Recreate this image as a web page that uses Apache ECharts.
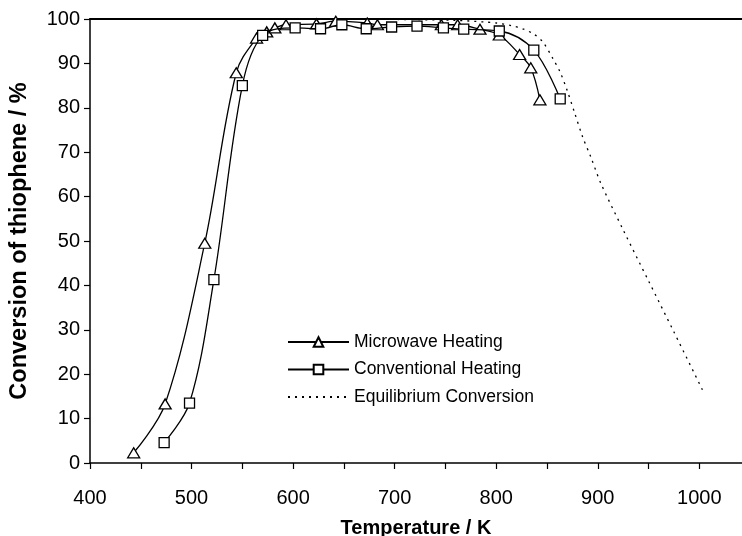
<!DOCTYPE html>
<html>
<head>
<meta charset="utf-8">
<script src="https://cdn.jsdelivr.net/npm/echarts@6/dist/echarts.min.js"></script>
<style>html,body{margin:0;padding:0;background:#fff}#c{width:742px;height:536px}</style>
</head>
<body>
<div id="c"></div>
<script>
const seriesNames = ['Microwave Heating', 'Conventional Heating', 'Equilibrium Conversion'];
const microwave = [[443,2.3],[474,13.3],[513,49.5],[544,87.9],[564,95.7],[574,97.1],[582,98.0],[593,98.7],[623,98.9],[642,99.5],[673,99.1],[683,98.7],[746,98.7],[762,98.7],[784,97.7],[803,96.4],[823,92.0],[834,89.0],[843,81.8]];
const conventional = [[473,4.6],[498,13.5],[522,41.3],[550,85.0],[570,96.3],[602,98.0],[627,97.8],[648,98.7],[672,97.8],[697,98.2],[722,98.4],[748,98.0],[768,97.7],[803,97.3],[837,93.0],[863,82.0]];
const equilibrium = [[420,100],[600,100],[700,99.9],[760,99.7],[790,99.3],[800,99.1],[815,98.5],[827,97.7],[837,96.6],[846,94.8],[856,91.0],[863,88.0],[870,83.8],[877,79.0],[885,73.5],[893,69.0],[903,63.0],[925,52.5],[950,41.0],[975,29.5],[1003,16.5]];
const xTicks = [400,500,600,700,800,900,1000];
const xMinorTicks = [400,450,500,550,600,650,700,750,800,850,900,950,1000];
const yTicks = [0,10,20,30,40,50,60,70,80,90,100];

const font = "'Liberation Sans', Arial, sans-serif";
const chart = echarts.init(document.getElementById('c'));
chart.setOption({
  animation: false,
  backgroundColor: '#fff',
  grid: {left: 90, right: 0, top: 19, bottom: 73, containLabel: false, outerBoundsMode: 'none'},
  legend: {
    orient: 'vertical', left: 282, top: 328,
    itemWidth: 61, itemHeight: 12, itemGap: 9.5,
    textStyle: {fontFamily: font, fontSize: 17.5, color: '#000'},
    data: [
      {name: seriesNames[0]},
      {name: seriesNames[1]},
      {name: seriesNames[2], itemStyle: {color: 'transparent', borderColor: 'transparent', borderWidth: 0}}
    ]
  },
  xAxis: [{
    type: 'value', min: 400, max: 1042, interval: 50,
    name: 'Temperature / K', nameLocation: 'middle', nameGap: 55,
    nameTextStyle: {fontFamily: font, fontSize: 20, fontWeight: 'bold', color: '#000'},
    axisLine: {lineStyle: {color: '#000', width: 1.5}},
    axisTick: {show: true, length: 6, inside: false, customValues: xMinorTicks, lineStyle: {color: '#000', width: 1.2}},
    axisLabel: {fontFamily: font, fontSize: 20, color: '#000', margin: 25, customValues: xTicks, formatter: v => String(v)},
    splitLine: {show: false}
  }, {
    type: 'value', min: 400, max: 1042, position: 'top',
    axisLine: {show: true, lineStyle: {color: '#000', width: 2}},
    axisTick: {show: false}, axisLabel: {show: false}, splitLine: {show: false}
  }],
  yAxis: {
    type: 'value', min: 0, max: 100, interval: 10,
    name: 'Conversion of thiophene / %', nameLocation: 'middle', nameGap: 58,
    nameTextStyle: {fontFamily: font, fontSize: 23.5, fontWeight: 'bold', color: '#000'},
    axisLine: {show: true, lineStyle: {color: '#000', width: 1.5}},
    axisTick: {show: true, length: 6, lineStyle: {color: '#000', width: 1.2}},
    axisLabel: {fontFamily: font, fontSize: 20, color: '#000', margin: 10, customValues: yTicks, formatter: v => String(v)},
    splitLine: {show: false}
  },
  series: [{
    name: seriesNames[0], type: 'line', data: microwave, smooth: 0.35,
    symbol: 'triangle', symbolSize: [12, 10],
    lineStyle: {color: '#000', width: 1.3},
    itemStyle: {color: '#fff', borderColor: '#000', borderWidth: 1.3},
    z: 3
  }, {
    name: seriesNames[1], type: 'line', data: conventional, smooth: 0.35,
    symbol: 'rect', symbolSize: 10,
    lineStyle: {color: '#000', width: 1.3},
    itemStyle: {color: '#fff', borderColor: '#000', borderWidth: 1.3},
    z: 4
  }, {
    name: seriesNames[2], type: 'line', data: equilibrium, smooth: 0.3,
    symbol: 'none', showSymbol: false,
    lineStyle: {color: '#000', width: 1.3, type: [2, 5]},
    itemStyle: {color: 'transparent'},
    z: 2
  }]
});
</script>
</body>
</html>
